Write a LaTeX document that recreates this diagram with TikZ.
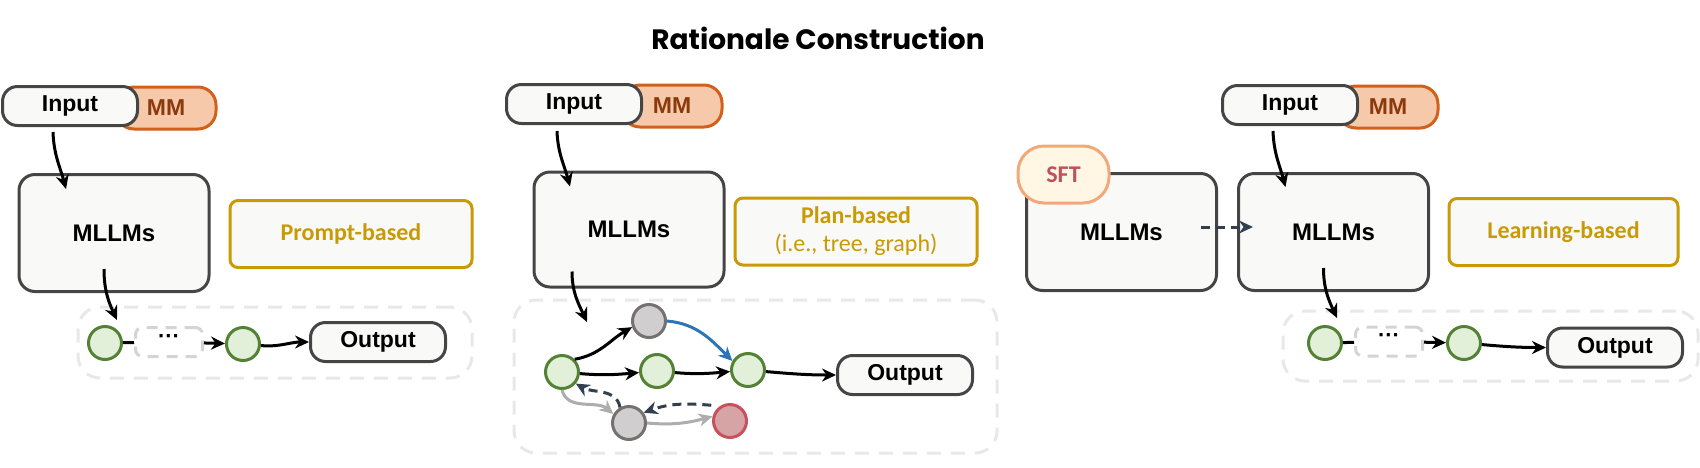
\documentclass[tikz,border=0pt]{standalone}
\usepackage{fontspec}
\usepackage{tikz}
\usetikzlibrary{arrows.meta,positioning}
\newfontfamily\boxfont{Liberation Sans}
\newfontfamily\tagfont{Carlito}
\newfontfamily\headfont{Poppins}

\definecolor{boxfill}{HTML}{F9F9F7}
\definecolor{boxline}{HTML}{454545}
\definecolor{mmfill}{HTML}{F6C9AA}
\definecolor{mmline}{HTML}{D2601A}
\definecolor{mmtext}{HTML}{8A3A0C}
\definecolor{gold}{HTML}{C89A06}
\definecolor{leaffill}{HTML}{E2EFD9}
\definecolor{leafline}{HTML}{548235}
\definecolor{greyfill}{HTML}{D0CECE}
\definecolor{greyline}{HTML}{767171}
\definecolor{redfill}{HTML}{D6A4A4}
\definecolor{redline}{HTML}{C9505F}
\definecolor{blueline}{HTML}{2E75B6}
\definecolor{navy}{HTML}{323F4F}
\definecolor{sftfill}{HTML}{FFF7E4}
\definecolor{sftline}{HTML}{F2A878}
\definecolor{sfttext}{HTML}{C0505A}

\begin{document}
\begin{tikzpicture}[x=1pt,y=-1pt,>={Stealth[length=14pt,width=13pt]},line width=3pt,
  io node/.style={rectangle,rounded corners=15pt,draw=boxline,fill=boxfill,
    minimum width=135pt,minimum height=39pt,inner sep=0pt,
    font=\boxfont\bfseries\fontsize{23}{27}\selectfont},
  mm node/.style={rectangle,rounded corners=18pt,draw=mmline,fill=mmfill,text=mmtext,
    minimum width=100pt,minimum height=42pt,inner sep=0pt,
    font=\boxfont\bfseries\fontsize{23}{27}\selectfont},
  llm node/.style={rectangle,rounded corners=16pt,draw=boxline,fill=boxfill,
    minimum width=190pt,minimum height=117pt,inner sep=0pt,
    font=\boxfont\bfseries\fontsize{24}{28}\selectfont},
  kind node/.style={rectangle,rounded corners=8pt,draw=gold,fill=boxfill,text=gold,
    minimum width=242pt,minimum height=67pt,inner sep=0pt,align=center,
    font=\tagfont\bfseries\fontsize{24}{28}\selectfont},
  sft node/.style={rectangle,rounded corners=26pt,draw=sftline,fill=sftfill,text=sfttext,
    minimum width=91pt,minimum height=57pt,inner sep=0pt,
    font=\tagfont\bfseries\fontsize{24}{28}\selectfont},
  leaf node/.style={circle,draw=leafline,fill=leaffill,minimum size=33pt,inner sep=0pt},
  grey node/.style={circle,draw=greyline,fill=greyfill,minimum size=33pt,inner sep=0pt},
  red node/.style={circle,draw=redline,fill=redfill,minimum size=33pt,inner sep=0pt},
  dots node/.style={rectangle,rounded corners=7pt,draw=black!17,fill=white,
    dash pattern=on 11pt off 8pt,minimum width=67pt,minimum height=29pt,inner sep=0pt,
    font=\boxfont\bfseries\fontsize{22}{22}\selectfont},
  group node/.style={rectangle,rounded corners=22pt,draw=black!9,
    dash pattern=on 14pt off 10pt,inner sep=0pt},
  link/.style={->,black,line width=3pt},
  back link/.style={->,navy,line width=3pt,dash pattern=on 9pt off 6pt}]

  \useasboundingbox (0,0) rectangle (1700,467);

  \node[font=\headfont\bfseries\fontsize{28}{32}\selectfont] (title) at (818,38) {Rationale Construction};

  \node[group node,minimum width=394pt,minimum height=71pt] (grp1) at (275,342.5) {};
  \node[group node,minimum width=483pt,minimum height=153pt] (grp2) at (755.5,376.5) {};
  \node[group node,minimum width=415pt,minimum height=70pt] (grp3) at (1490.5,346) {};

  \node[mm node] (mm1) at (166,108) {MM};
  \node[io node] (in1) at (70,106) {Input};
  \node[llm node] (llm1) at (114,233) {MLLMs};
  \node[kind node] (kind1) at (351,234) {Prompt-based};
  \node[leaf node] (a1) at (105,343) {};
  \node[dots node] (d1) at (169,342) {\raisebox{6pt}{\textperiodcentered\textperiodcentered\textperiodcentered}};
  \node[leaf node] (a2) at (243,344) {};
  \node[io node] (out1) at (378,342) {Output};

  \node[mm node] (mm2) at (672,106) {MM};
  \node[io node] (in2) at (574,104) {Input};
  \node[llm node,minimum height=115pt] (llm2) at (629,229.5) {MLLMs};
  \node[kind node] (kind2) at (856,231.5) {Plan-based\\{\mdseries(i.e., tree, graph)}};
  \node[grey node] (g1) at (649,321) {};
  \node[leaf node] (b1) at (562,372) {};
  \node[leaf node] (b2) at (657,371) {};
  \node[leaf node] (b3) at (748,370) {};
  \node[grey node] (g2) at (629,423) {};
  \node[red node] (r1) at (730,421) {};
  \node[io node] (out2) at (905,375) {Output};
  \coordinate (hook2) at (587,322);

  \node[mm node] (mm3) at (1388,107) {MM};
  \node[io node] (in3) at (1290,105) {Input};
  \node[llm node] (llm3a) at (1121.5,232) {MLLMs};
  \node[llm node] (llm3b) at (1333.5,232) {MLLMs};
  \node[sft node] (sft) at (1063.5,174.5) {SFT};
  \node[kind node,minimum width=229pt] (kind3) at (1563.5,232) {Learning-based};
  \node[leaf node] (c1) at (1325,343) {};
  \node[dots node] (d3) at (1389,341.5) {\raisebox{6pt}{\textperiodcentered\textperiodcentered\textperiodcentered}};
  \node[leaf node] (c2) at (1464,343) {};
  \node[io node] (out3) at (1615,347.5) {Output};

  \path[link]
    ([xshift=-17pt,yshift=-5pt]in1.south) edge[out=-88,in=105] ([xshift=-48pt,yshift=-16pt]llm1.north)
    ([xshift=-10pt,yshift=24pt]llm1.south) edge[out=-90,in=115] ([xshift=12pt,yshift=5pt]a1.north)
    (d1) edge (a2)
    (a2) edge[out=-5,in=180] (out1)
    ([xshift=-17pt,yshift=-6pt]in2.south) edge[out=-88,in=105] ([xshift=-59pt,yshift=-16pt]llm2.north)
    ([xshift=-57pt,yshift=17pt]llm2.south) edge[out=-90,in=115] (hook2)
    (b1.45) edge[out=10,in=210] (g1.200)
    (b1) edge[out=-5,in=185] (b2)
    (b2) edge[out=-5,in=185] (b3)
    (b3) edge[out=-5,in=180] (out2)
    ([xshift=-17pt,yshift=-5pt]in3.south) edge[out=-88,in=105] ([xshift=-48pt,yshift=-15pt]llm3b.north)
    ([xshift=-10pt,yshift=24pt]llm3b.south) edge[out=-90,in=115] ([xshift=12pt,yshift=7pt]c1.north)
    (d3) edge (c2)
    (c2) edge[out=-5,in=180] (out3);

  \path[black,line width=3pt]
    (a1) edge (d1)
    (c1) edge (d3);

  \path[link,blueline]
    (g1.east) edge[out=-5,in=135] (b3.150);

  \path[link,black!32]
    (b1.south) edge[out=-75,in=140] (g2.150)
    (g2.east) edge[out=-5,in=195] (r1.165);

  \path[back link]
    (g2.120) edge[out=100,in=-30] (b1.-40)
    ([xshift=-6pt,yshift=3pt]r1.135) edge[out=175,in=20] (g2.35)
    ([xshift=-17pt,yshift=5pt]llm3a.east) edge ([xshift=16pt,yshift=5pt]llm3b.west);

\end{tikzpicture}
\end{document}
